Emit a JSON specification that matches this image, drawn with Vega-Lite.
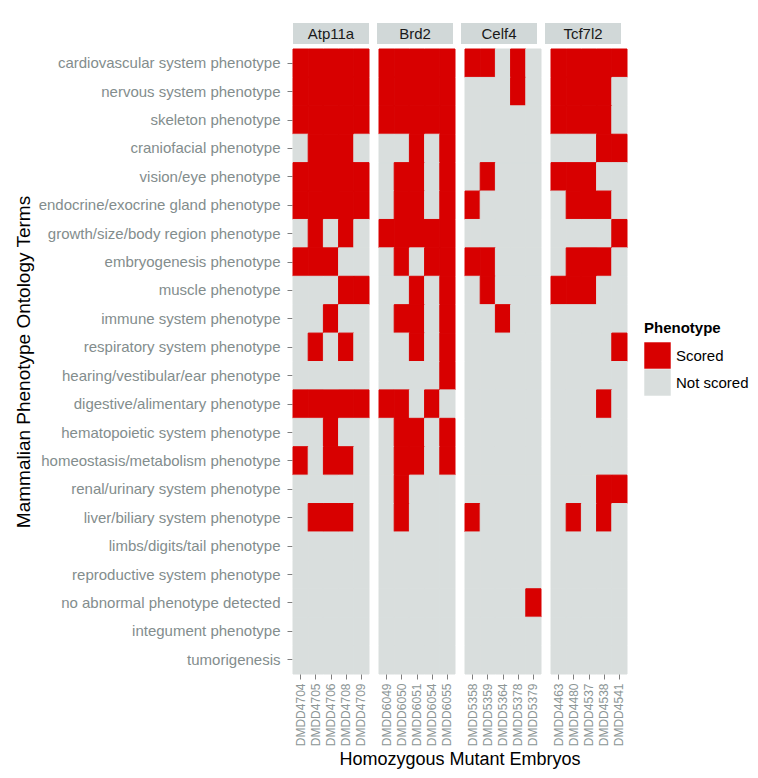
{
"$schema": "https://vega.github.io/schema/vega-lite/v6.json",
"background": "white",
"padding": {"left": 14, "top": 23, "right": 5, "bottom": 5},
"config": {
  "font": "Liberation Sans",
  "view": {"stroke": null},
  "concat": {"spacing": 4},
  "axis": {"domain": false, "grid": false}
},
"datasets": {
"genes": [{"gene":"Atp11a"},{"gene":"Brd2"},{"gene":"Celf4"},{"gene":"Tcf7l2"}],
"cells": [
{"gene":"Atp11a","embryo":"DMDD4704","phenotype":"cardiovascular system phenotype","status":"Scored"},
{"gene":"Atp11a","embryo":"DMDD4705","phenotype":"cardiovascular system phenotype","status":"Scored"},
{"gene":"Atp11a","embryo":"DMDD4706","phenotype":"cardiovascular system phenotype","status":"Scored"},
{"gene":"Atp11a","embryo":"DMDD4708","phenotype":"cardiovascular system phenotype","status":"Scored"},
{"gene":"Atp11a","embryo":"DMDD4709","phenotype":"cardiovascular system phenotype","status":"Scored"},
{"gene":"Atp11a","embryo":"DMDD4704","phenotype":"nervous system phenotype","status":"Scored"},
{"gene":"Atp11a","embryo":"DMDD4705","phenotype":"nervous system phenotype","status":"Scored"},
{"gene":"Atp11a","embryo":"DMDD4706","phenotype":"nervous system phenotype","status":"Scored"},
{"gene":"Atp11a","embryo":"DMDD4708","phenotype":"nervous system phenotype","status":"Scored"},
{"gene":"Atp11a","embryo":"DMDD4709","phenotype":"nervous system phenotype","status":"Scored"},
{"gene":"Atp11a","embryo":"DMDD4704","phenotype":"skeleton phenotype","status":"Scored"},
{"gene":"Atp11a","embryo":"DMDD4705","phenotype":"skeleton phenotype","status":"Scored"},
{"gene":"Atp11a","embryo":"DMDD4706","phenotype":"skeleton phenotype","status":"Scored"},
{"gene":"Atp11a","embryo":"DMDD4708","phenotype":"skeleton phenotype","status":"Scored"},
{"gene":"Atp11a","embryo":"DMDD4709","phenotype":"skeleton phenotype","status":"Scored"},
{"gene":"Atp11a","embryo":"DMDD4704","phenotype":"craniofacial phenotype","status":"Not scored"},
{"gene":"Atp11a","embryo":"DMDD4705","phenotype":"craniofacial phenotype","status":"Scored"},
{"gene":"Atp11a","embryo":"DMDD4706","phenotype":"craniofacial phenotype","status":"Scored"},
{"gene":"Atp11a","embryo":"DMDD4708","phenotype":"craniofacial phenotype","status":"Scored"},
{"gene":"Atp11a","embryo":"DMDD4709","phenotype":"craniofacial phenotype","status":"Not scored"},
{"gene":"Atp11a","embryo":"DMDD4704","phenotype":"vision/eye phenotype","status":"Scored"},
{"gene":"Atp11a","embryo":"DMDD4705","phenotype":"vision/eye phenotype","status":"Scored"},
{"gene":"Atp11a","embryo":"DMDD4706","phenotype":"vision/eye phenotype","status":"Scored"},
{"gene":"Atp11a","embryo":"DMDD4708","phenotype":"vision/eye phenotype","status":"Scored"},
{"gene":"Atp11a","embryo":"DMDD4709","phenotype":"vision/eye phenotype","status":"Scored"},
{"gene":"Atp11a","embryo":"DMDD4704","phenotype":"endocrine/exocrine gland phenotype","status":"Scored"},
{"gene":"Atp11a","embryo":"DMDD4705","phenotype":"endocrine/exocrine gland phenotype","status":"Scored"},
{"gene":"Atp11a","embryo":"DMDD4706","phenotype":"endocrine/exocrine gland phenotype","status":"Scored"},
{"gene":"Atp11a","embryo":"DMDD4708","phenotype":"endocrine/exocrine gland phenotype","status":"Scored"},
{"gene":"Atp11a","embryo":"DMDD4709","phenotype":"endocrine/exocrine gland phenotype","status":"Scored"},
{"gene":"Atp11a","embryo":"DMDD4704","phenotype":"growth/size/body region phenotype","status":"Not scored"},
{"gene":"Atp11a","embryo":"DMDD4705","phenotype":"growth/size/body region phenotype","status":"Scored"},
{"gene":"Atp11a","embryo":"DMDD4706","phenotype":"growth/size/body region phenotype","status":"Not scored"},
{"gene":"Atp11a","embryo":"DMDD4708","phenotype":"growth/size/body region phenotype","status":"Scored"},
{"gene":"Atp11a","embryo":"DMDD4709","phenotype":"growth/size/body region phenotype","status":"Not scored"},
{"gene":"Atp11a","embryo":"DMDD4704","phenotype":"embryogenesis phenotype","status":"Scored"},
{"gene":"Atp11a","embryo":"DMDD4705","phenotype":"embryogenesis phenotype","status":"Scored"},
{"gene":"Atp11a","embryo":"DMDD4706","phenotype":"embryogenesis phenotype","status":"Scored"},
{"gene":"Atp11a","embryo":"DMDD4708","phenotype":"embryogenesis phenotype","status":"Not scored"},
{"gene":"Atp11a","embryo":"DMDD4709","phenotype":"embryogenesis phenotype","status":"Not scored"},
{"gene":"Atp11a","embryo":"DMDD4704","phenotype":"muscle phenotype","status":"Not scored"},
{"gene":"Atp11a","embryo":"DMDD4705","phenotype":"muscle phenotype","status":"Not scored"},
{"gene":"Atp11a","embryo":"DMDD4706","phenotype":"muscle phenotype","status":"Not scored"},
{"gene":"Atp11a","embryo":"DMDD4708","phenotype":"muscle phenotype","status":"Scored"},
{"gene":"Atp11a","embryo":"DMDD4709","phenotype":"muscle phenotype","status":"Scored"},
{"gene":"Atp11a","embryo":"DMDD4704","phenotype":"immune system phenotype","status":"Not scored"},
{"gene":"Atp11a","embryo":"DMDD4705","phenotype":"immune system phenotype","status":"Not scored"},
{"gene":"Atp11a","embryo":"DMDD4706","phenotype":"immune system phenotype","status":"Scored"},
{"gene":"Atp11a","embryo":"DMDD4708","phenotype":"immune system phenotype","status":"Not scored"},
{"gene":"Atp11a","embryo":"DMDD4709","phenotype":"immune system phenotype","status":"Not scored"},
{"gene":"Atp11a","embryo":"DMDD4704","phenotype":"respiratory system phenotype","status":"Not scored"},
{"gene":"Atp11a","embryo":"DMDD4705","phenotype":"respiratory system phenotype","status":"Scored"},
{"gene":"Atp11a","embryo":"DMDD4706","phenotype":"respiratory system phenotype","status":"Not scored"},
{"gene":"Atp11a","embryo":"DMDD4708","phenotype":"respiratory system phenotype","status":"Scored"},
{"gene":"Atp11a","embryo":"DMDD4709","phenotype":"respiratory system phenotype","status":"Not scored"},
{"gene":"Atp11a","embryo":"DMDD4704","phenotype":"hearing/vestibular/ear phenotype","status":"Not scored"},
{"gene":"Atp11a","embryo":"DMDD4705","phenotype":"hearing/vestibular/ear phenotype","status":"Not scored"},
{"gene":"Atp11a","embryo":"DMDD4706","phenotype":"hearing/vestibular/ear phenotype","status":"Not scored"},
{"gene":"Atp11a","embryo":"DMDD4708","phenotype":"hearing/vestibular/ear phenotype","status":"Not scored"},
{"gene":"Atp11a","embryo":"DMDD4709","phenotype":"hearing/vestibular/ear phenotype","status":"Not scored"},
{"gene":"Atp11a","embryo":"DMDD4704","phenotype":"digestive/alimentary phenotype","status":"Scored"},
{"gene":"Atp11a","embryo":"DMDD4705","phenotype":"digestive/alimentary phenotype","status":"Scored"},
{"gene":"Atp11a","embryo":"DMDD4706","phenotype":"digestive/alimentary phenotype","status":"Scored"},
{"gene":"Atp11a","embryo":"DMDD4708","phenotype":"digestive/alimentary phenotype","status":"Scored"},
{"gene":"Atp11a","embryo":"DMDD4709","phenotype":"digestive/alimentary phenotype","status":"Scored"},
{"gene":"Atp11a","embryo":"DMDD4704","phenotype":"hematopoietic system phenotype","status":"Not scored"},
{"gene":"Atp11a","embryo":"DMDD4705","phenotype":"hematopoietic system phenotype","status":"Not scored"},
{"gene":"Atp11a","embryo":"DMDD4706","phenotype":"hematopoietic system phenotype","status":"Scored"},
{"gene":"Atp11a","embryo":"DMDD4708","phenotype":"hematopoietic system phenotype","status":"Not scored"},
{"gene":"Atp11a","embryo":"DMDD4709","phenotype":"hematopoietic system phenotype","status":"Not scored"},
{"gene":"Atp11a","embryo":"DMDD4704","phenotype":"homeostasis/metabolism phenotype","status":"Scored"},
{"gene":"Atp11a","embryo":"DMDD4705","phenotype":"homeostasis/metabolism phenotype","status":"Not scored"},
{"gene":"Atp11a","embryo":"DMDD4706","phenotype":"homeostasis/metabolism phenotype","status":"Scored"},
{"gene":"Atp11a","embryo":"DMDD4708","phenotype":"homeostasis/metabolism phenotype","status":"Scored"},
{"gene":"Atp11a","embryo":"DMDD4709","phenotype":"homeostasis/metabolism phenotype","status":"Not scored"},
{"gene":"Atp11a","embryo":"DMDD4704","phenotype":"renal/urinary system phenotype","status":"Not scored"},
{"gene":"Atp11a","embryo":"DMDD4705","phenotype":"renal/urinary system phenotype","status":"Not scored"},
{"gene":"Atp11a","embryo":"DMDD4706","phenotype":"renal/urinary system phenotype","status":"Not scored"},
{"gene":"Atp11a","embryo":"DMDD4708","phenotype":"renal/urinary system phenotype","status":"Not scored"},
{"gene":"Atp11a","embryo":"DMDD4709","phenotype":"renal/urinary system phenotype","status":"Not scored"},
{"gene":"Atp11a","embryo":"DMDD4704","phenotype":"liver/biliary system phenotype","status":"Not scored"},
{"gene":"Atp11a","embryo":"DMDD4705","phenotype":"liver/biliary system phenotype","status":"Scored"},
{"gene":"Atp11a","embryo":"DMDD4706","phenotype":"liver/biliary system phenotype","status":"Scored"},
{"gene":"Atp11a","embryo":"DMDD4708","phenotype":"liver/biliary system phenotype","status":"Scored"},
{"gene":"Atp11a","embryo":"DMDD4709","phenotype":"liver/biliary system phenotype","status":"Not scored"},
{"gene":"Atp11a","embryo":"DMDD4704","phenotype":"limbs/digits/tail phenotype","status":"Not scored"},
{"gene":"Atp11a","embryo":"DMDD4705","phenotype":"limbs/digits/tail phenotype","status":"Not scored"},
{"gene":"Atp11a","embryo":"DMDD4706","phenotype":"limbs/digits/tail phenotype","status":"Not scored"},
{"gene":"Atp11a","embryo":"DMDD4708","phenotype":"limbs/digits/tail phenotype","status":"Not scored"},
{"gene":"Atp11a","embryo":"DMDD4709","phenotype":"limbs/digits/tail phenotype","status":"Not scored"},
{"gene":"Atp11a","embryo":"DMDD4704","phenotype":"reproductive system phenotype","status":"Not scored"},
{"gene":"Atp11a","embryo":"DMDD4705","phenotype":"reproductive system phenotype","status":"Not scored"},
{"gene":"Atp11a","embryo":"DMDD4706","phenotype":"reproductive system phenotype","status":"Not scored"},
{"gene":"Atp11a","embryo":"DMDD4708","phenotype":"reproductive system phenotype","status":"Not scored"},
{"gene":"Atp11a","embryo":"DMDD4709","phenotype":"reproductive system phenotype","status":"Not scored"},
{"gene":"Atp11a","embryo":"DMDD4704","phenotype":"no abnormal phenotype detected","status":"Not scored"},
{"gene":"Atp11a","embryo":"DMDD4705","phenotype":"no abnormal phenotype detected","status":"Not scored"},
{"gene":"Atp11a","embryo":"DMDD4706","phenotype":"no abnormal phenotype detected","status":"Not scored"},
{"gene":"Atp11a","embryo":"DMDD4708","phenotype":"no abnormal phenotype detected","status":"Not scored"},
{"gene":"Atp11a","embryo":"DMDD4709","phenotype":"no abnormal phenotype detected","status":"Not scored"},
{"gene":"Atp11a","embryo":"DMDD4704","phenotype":"integument phenotype","status":"Not scored"},
{"gene":"Atp11a","embryo":"DMDD4705","phenotype":"integument phenotype","status":"Not scored"},
{"gene":"Atp11a","embryo":"DMDD4706","phenotype":"integument phenotype","status":"Not scored"},
{"gene":"Atp11a","embryo":"DMDD4708","phenotype":"integument phenotype","status":"Not scored"},
{"gene":"Atp11a","embryo":"DMDD4709","phenotype":"integument phenotype","status":"Not scored"},
{"gene":"Atp11a","embryo":"DMDD4704","phenotype":"tumorigenesis","status":"Not scored"},
{"gene":"Atp11a","embryo":"DMDD4705","phenotype":"tumorigenesis","status":"Not scored"},
{"gene":"Atp11a","embryo":"DMDD4706","phenotype":"tumorigenesis","status":"Not scored"},
{"gene":"Atp11a","embryo":"DMDD4708","phenotype":"tumorigenesis","status":"Not scored"},
{"gene":"Atp11a","embryo":"DMDD4709","phenotype":"tumorigenesis","status":"Not scored"},

{"gene":"Brd2","embryo":"DMDD6049","phenotype":"cardiovascular system phenotype","status":"Scored"},
{"gene":"Brd2","embryo":"DMDD6050","phenotype":"cardiovascular system phenotype","status":"Scored"},
{"gene":"Brd2","embryo":"DMDD6051","phenotype":"cardiovascular system phenotype","status":"Scored"},
{"gene":"Brd2","embryo":"DMDD6054","phenotype":"cardiovascular system phenotype","status":"Scored"},
{"gene":"Brd2","embryo":"DMDD6055","phenotype":"cardiovascular system phenotype","status":"Scored"},
{"gene":"Brd2","embryo":"DMDD6049","phenotype":"nervous system phenotype","status":"Scored"},
{"gene":"Brd2","embryo":"DMDD6050","phenotype":"nervous system phenotype","status":"Scored"},
{"gene":"Brd2","embryo":"DMDD6051","phenotype":"nervous system phenotype","status":"Scored"},
{"gene":"Brd2","embryo":"DMDD6054","phenotype":"nervous system phenotype","status":"Scored"},
{"gene":"Brd2","embryo":"DMDD6055","phenotype":"nervous system phenotype","status":"Scored"},
{"gene":"Brd2","embryo":"DMDD6049","phenotype":"skeleton phenotype","status":"Scored"},
{"gene":"Brd2","embryo":"DMDD6050","phenotype":"skeleton phenotype","status":"Scored"},
{"gene":"Brd2","embryo":"DMDD6051","phenotype":"skeleton phenotype","status":"Scored"},
{"gene":"Brd2","embryo":"DMDD6054","phenotype":"skeleton phenotype","status":"Scored"},
{"gene":"Brd2","embryo":"DMDD6055","phenotype":"skeleton phenotype","status":"Scored"},
{"gene":"Brd2","embryo":"DMDD6049","phenotype":"craniofacial phenotype","status":"Not scored"},
{"gene":"Brd2","embryo":"DMDD6050","phenotype":"craniofacial phenotype","status":"Not scored"},
{"gene":"Brd2","embryo":"DMDD6051","phenotype":"craniofacial phenotype","status":"Scored"},
{"gene":"Brd2","embryo":"DMDD6054","phenotype":"craniofacial phenotype","status":"Not scored"},
{"gene":"Brd2","embryo":"DMDD6055","phenotype":"craniofacial phenotype","status":"Scored"},
{"gene":"Brd2","embryo":"DMDD6049","phenotype":"vision/eye phenotype","status":"Not scored"},
{"gene":"Brd2","embryo":"DMDD6050","phenotype":"vision/eye phenotype","status":"Scored"},
{"gene":"Brd2","embryo":"DMDD6051","phenotype":"vision/eye phenotype","status":"Scored"},
{"gene":"Brd2","embryo":"DMDD6054","phenotype":"vision/eye phenotype","status":"Not scored"},
{"gene":"Brd2","embryo":"DMDD6055","phenotype":"vision/eye phenotype","status":"Scored"},
{"gene":"Brd2","embryo":"DMDD6049","phenotype":"endocrine/exocrine gland phenotype","status":"Not scored"},
{"gene":"Brd2","embryo":"DMDD6050","phenotype":"endocrine/exocrine gland phenotype","status":"Scored"},
{"gene":"Brd2","embryo":"DMDD6051","phenotype":"endocrine/exocrine gland phenotype","status":"Scored"},
{"gene":"Brd2","embryo":"DMDD6054","phenotype":"endocrine/exocrine gland phenotype","status":"Not scored"},
{"gene":"Brd2","embryo":"DMDD6055","phenotype":"endocrine/exocrine gland phenotype","status":"Scored"},
{"gene":"Brd2","embryo":"DMDD6049","phenotype":"growth/size/body region phenotype","status":"Scored"},
{"gene":"Brd2","embryo":"DMDD6050","phenotype":"growth/size/body region phenotype","status":"Scored"},
{"gene":"Brd2","embryo":"DMDD6051","phenotype":"growth/size/body region phenotype","status":"Scored"},
{"gene":"Brd2","embryo":"DMDD6054","phenotype":"growth/size/body region phenotype","status":"Scored"},
{"gene":"Brd2","embryo":"DMDD6055","phenotype":"growth/size/body region phenotype","status":"Scored"},
{"gene":"Brd2","embryo":"DMDD6049","phenotype":"embryogenesis phenotype","status":"Not scored"},
{"gene":"Brd2","embryo":"DMDD6050","phenotype":"embryogenesis phenotype","status":"Scored"},
{"gene":"Brd2","embryo":"DMDD6051","phenotype":"embryogenesis phenotype","status":"Not scored"},
{"gene":"Brd2","embryo":"DMDD6054","phenotype":"embryogenesis phenotype","status":"Scored"},
{"gene":"Brd2","embryo":"DMDD6055","phenotype":"embryogenesis phenotype","status":"Scored"},
{"gene":"Brd2","embryo":"DMDD6049","phenotype":"muscle phenotype","status":"Not scored"},
{"gene":"Brd2","embryo":"DMDD6050","phenotype":"muscle phenotype","status":"Not scored"},
{"gene":"Brd2","embryo":"DMDD6051","phenotype":"muscle phenotype","status":"Scored"},
{"gene":"Brd2","embryo":"DMDD6054","phenotype":"muscle phenotype","status":"Not scored"},
{"gene":"Brd2","embryo":"DMDD6055","phenotype":"muscle phenotype","status":"Scored"},
{"gene":"Brd2","embryo":"DMDD6049","phenotype":"immune system phenotype","status":"Not scored"},
{"gene":"Brd2","embryo":"DMDD6050","phenotype":"immune system phenotype","status":"Scored"},
{"gene":"Brd2","embryo":"DMDD6051","phenotype":"immune system phenotype","status":"Scored"},
{"gene":"Brd2","embryo":"DMDD6054","phenotype":"immune system phenotype","status":"Not scored"},
{"gene":"Brd2","embryo":"DMDD6055","phenotype":"immune system phenotype","status":"Scored"},
{"gene":"Brd2","embryo":"DMDD6049","phenotype":"respiratory system phenotype","status":"Not scored"},
{"gene":"Brd2","embryo":"DMDD6050","phenotype":"respiratory system phenotype","status":"Not scored"},
{"gene":"Brd2","embryo":"DMDD6051","phenotype":"respiratory system phenotype","status":"Scored"},
{"gene":"Brd2","embryo":"DMDD6054","phenotype":"respiratory system phenotype","status":"Not scored"},
{"gene":"Brd2","embryo":"DMDD6055","phenotype":"respiratory system phenotype","status":"Scored"},
{"gene":"Brd2","embryo":"DMDD6049","phenotype":"hearing/vestibular/ear phenotype","status":"Not scored"},
{"gene":"Brd2","embryo":"DMDD6050","phenotype":"hearing/vestibular/ear phenotype","status":"Not scored"},
{"gene":"Brd2","embryo":"DMDD6051","phenotype":"hearing/vestibular/ear phenotype","status":"Not scored"},
{"gene":"Brd2","embryo":"DMDD6054","phenotype":"hearing/vestibular/ear phenotype","status":"Not scored"},
{"gene":"Brd2","embryo":"DMDD6055","phenotype":"hearing/vestibular/ear phenotype","status":"Scored"},
{"gene":"Brd2","embryo":"DMDD6049","phenotype":"digestive/alimentary phenotype","status":"Scored"},
{"gene":"Brd2","embryo":"DMDD6050","phenotype":"digestive/alimentary phenotype","status":"Scored"},
{"gene":"Brd2","embryo":"DMDD6051","phenotype":"digestive/alimentary phenotype","status":"Not scored"},
{"gene":"Brd2","embryo":"DMDD6054","phenotype":"digestive/alimentary phenotype","status":"Scored"},
{"gene":"Brd2","embryo":"DMDD6055","phenotype":"digestive/alimentary phenotype","status":"Not scored"},
{"gene":"Brd2","embryo":"DMDD6049","phenotype":"hematopoietic system phenotype","status":"Not scored"},
{"gene":"Brd2","embryo":"DMDD6050","phenotype":"hematopoietic system phenotype","status":"Scored"},
{"gene":"Brd2","embryo":"DMDD6051","phenotype":"hematopoietic system phenotype","status":"Scored"},
{"gene":"Brd2","embryo":"DMDD6054","phenotype":"hematopoietic system phenotype","status":"Not scored"},
{"gene":"Brd2","embryo":"DMDD6055","phenotype":"hematopoietic system phenotype","status":"Scored"},
{"gene":"Brd2","embryo":"DMDD6049","phenotype":"homeostasis/metabolism phenotype","status":"Not scored"},
{"gene":"Brd2","embryo":"DMDD6050","phenotype":"homeostasis/metabolism phenotype","status":"Scored"},
{"gene":"Brd2","embryo":"DMDD6051","phenotype":"homeostasis/metabolism phenotype","status":"Scored"},
{"gene":"Brd2","embryo":"DMDD6054","phenotype":"homeostasis/metabolism phenotype","status":"Not scored"},
{"gene":"Brd2","embryo":"DMDD6055","phenotype":"homeostasis/metabolism phenotype","status":"Scored"},
{"gene":"Brd2","embryo":"DMDD6049","phenotype":"renal/urinary system phenotype","status":"Not scored"},
{"gene":"Brd2","embryo":"DMDD6050","phenotype":"renal/urinary system phenotype","status":"Scored"},
{"gene":"Brd2","embryo":"DMDD6051","phenotype":"renal/urinary system phenotype","status":"Not scored"},
{"gene":"Brd2","embryo":"DMDD6054","phenotype":"renal/urinary system phenotype","status":"Not scored"},
{"gene":"Brd2","embryo":"DMDD6055","phenotype":"renal/urinary system phenotype","status":"Not scored"},
{"gene":"Brd2","embryo":"DMDD6049","phenotype":"liver/biliary system phenotype","status":"Not scored"},
{"gene":"Brd2","embryo":"DMDD6050","phenotype":"liver/biliary system phenotype","status":"Scored"},
{"gene":"Brd2","embryo":"DMDD6051","phenotype":"liver/biliary system phenotype","status":"Not scored"},
{"gene":"Brd2","embryo":"DMDD6054","phenotype":"liver/biliary system phenotype","status":"Not scored"},
{"gene":"Brd2","embryo":"DMDD6055","phenotype":"liver/biliary system phenotype","status":"Not scored"},
{"gene":"Brd2","embryo":"DMDD6049","phenotype":"limbs/digits/tail phenotype","status":"Not scored"},
{"gene":"Brd2","embryo":"DMDD6050","phenotype":"limbs/digits/tail phenotype","status":"Not scored"},
{"gene":"Brd2","embryo":"DMDD6051","phenotype":"limbs/digits/tail phenotype","status":"Not scored"},
{"gene":"Brd2","embryo":"DMDD6054","phenotype":"limbs/digits/tail phenotype","status":"Not scored"},
{"gene":"Brd2","embryo":"DMDD6055","phenotype":"limbs/digits/tail phenotype","status":"Not scored"},
{"gene":"Brd2","embryo":"DMDD6049","phenotype":"reproductive system phenotype","status":"Not scored"},
{"gene":"Brd2","embryo":"DMDD6050","phenotype":"reproductive system phenotype","status":"Not scored"},
{"gene":"Brd2","embryo":"DMDD6051","phenotype":"reproductive system phenotype","status":"Not scored"},
{"gene":"Brd2","embryo":"DMDD6054","phenotype":"reproductive system phenotype","status":"Not scored"},
{"gene":"Brd2","embryo":"DMDD6055","phenotype":"reproductive system phenotype","status":"Not scored"},
{"gene":"Brd2","embryo":"DMDD6049","phenotype":"no abnormal phenotype detected","status":"Not scored"},
{"gene":"Brd2","embryo":"DMDD6050","phenotype":"no abnormal phenotype detected","status":"Not scored"},
{"gene":"Brd2","embryo":"DMDD6051","phenotype":"no abnormal phenotype detected","status":"Not scored"},
{"gene":"Brd2","embryo":"DMDD6054","phenotype":"no abnormal phenotype detected","status":"Not scored"},
{"gene":"Brd2","embryo":"DMDD6055","phenotype":"no abnormal phenotype detected","status":"Not scored"},
{"gene":"Brd2","embryo":"DMDD6049","phenotype":"integument phenotype","status":"Not scored"},
{"gene":"Brd2","embryo":"DMDD6050","phenotype":"integument phenotype","status":"Not scored"},
{"gene":"Brd2","embryo":"DMDD6051","phenotype":"integument phenotype","status":"Not scored"},
{"gene":"Brd2","embryo":"DMDD6054","phenotype":"integument phenotype","status":"Not scored"},
{"gene":"Brd2","embryo":"DMDD6055","phenotype":"integument phenotype","status":"Not scored"},
{"gene":"Brd2","embryo":"DMDD6049","phenotype":"tumorigenesis","status":"Not scored"},
{"gene":"Brd2","embryo":"DMDD6050","phenotype":"tumorigenesis","status":"Not scored"},
{"gene":"Brd2","embryo":"DMDD6051","phenotype":"tumorigenesis","status":"Not scored"},
{"gene":"Brd2","embryo":"DMDD6054","phenotype":"tumorigenesis","status":"Not scored"},
{"gene":"Brd2","embryo":"DMDD6055","phenotype":"tumorigenesis","status":"Not scored"},

{"gene":"Celf4","embryo":"DMDD5358","phenotype":"cardiovascular system phenotype","status":"Scored"},
{"gene":"Celf4","embryo":"DMDD5359","phenotype":"cardiovascular system phenotype","status":"Scored"},
{"gene":"Celf4","embryo":"DMDD5364","phenotype":"cardiovascular system phenotype","status":"Not scored"},
{"gene":"Celf4","embryo":"DMDD5378","phenotype":"cardiovascular system phenotype","status":"Scored"},
{"gene":"Celf4","embryo":"DMDD5379","phenotype":"cardiovascular system phenotype","status":"Not scored"},
{"gene":"Celf4","embryo":"DMDD5358","phenotype":"nervous system phenotype","status":"Not scored"},
{"gene":"Celf4","embryo":"DMDD5359","phenotype":"nervous system phenotype","status":"Not scored"},
{"gene":"Celf4","embryo":"DMDD5364","phenotype":"nervous system phenotype","status":"Not scored"},
{"gene":"Celf4","embryo":"DMDD5378","phenotype":"nervous system phenotype","status":"Scored"},
{"gene":"Celf4","embryo":"DMDD5379","phenotype":"nervous system phenotype","status":"Not scored"},
{"gene":"Celf4","embryo":"DMDD5358","phenotype":"skeleton phenotype","status":"Not scored"},
{"gene":"Celf4","embryo":"DMDD5359","phenotype":"skeleton phenotype","status":"Not scored"},
{"gene":"Celf4","embryo":"DMDD5364","phenotype":"skeleton phenotype","status":"Not scored"},
{"gene":"Celf4","embryo":"DMDD5378","phenotype":"skeleton phenotype","status":"Not scored"},
{"gene":"Celf4","embryo":"DMDD5379","phenotype":"skeleton phenotype","status":"Not scored"},
{"gene":"Celf4","embryo":"DMDD5358","phenotype":"craniofacial phenotype","status":"Not scored"},
{"gene":"Celf4","embryo":"DMDD5359","phenotype":"craniofacial phenotype","status":"Not scored"},
{"gene":"Celf4","embryo":"DMDD5364","phenotype":"craniofacial phenotype","status":"Not scored"},
{"gene":"Celf4","embryo":"DMDD5378","phenotype":"craniofacial phenotype","status":"Not scored"},
{"gene":"Celf4","embryo":"DMDD5379","phenotype":"craniofacial phenotype","status":"Not scored"},
{"gene":"Celf4","embryo":"DMDD5358","phenotype":"vision/eye phenotype","status":"Not scored"},
{"gene":"Celf4","embryo":"DMDD5359","phenotype":"vision/eye phenotype","status":"Scored"},
{"gene":"Celf4","embryo":"DMDD5364","phenotype":"vision/eye phenotype","status":"Not scored"},
{"gene":"Celf4","embryo":"DMDD5378","phenotype":"vision/eye phenotype","status":"Not scored"},
{"gene":"Celf4","embryo":"DMDD5379","phenotype":"vision/eye phenotype","status":"Not scored"},
{"gene":"Celf4","embryo":"DMDD5358","phenotype":"endocrine/exocrine gland phenotype","status":"Scored"},
{"gene":"Celf4","embryo":"DMDD5359","phenotype":"endocrine/exocrine gland phenotype","status":"Not scored"},
{"gene":"Celf4","embryo":"DMDD5364","phenotype":"endocrine/exocrine gland phenotype","status":"Not scored"},
{"gene":"Celf4","embryo":"DMDD5378","phenotype":"endocrine/exocrine gland phenotype","status":"Not scored"},
{"gene":"Celf4","embryo":"DMDD5379","phenotype":"endocrine/exocrine gland phenotype","status":"Not scored"},
{"gene":"Celf4","embryo":"DMDD5358","phenotype":"growth/size/body region phenotype","status":"Not scored"},
{"gene":"Celf4","embryo":"DMDD5359","phenotype":"growth/size/body region phenotype","status":"Not scored"},
{"gene":"Celf4","embryo":"DMDD5364","phenotype":"growth/size/body region phenotype","status":"Not scored"},
{"gene":"Celf4","embryo":"DMDD5378","phenotype":"growth/size/body region phenotype","status":"Not scored"},
{"gene":"Celf4","embryo":"DMDD5379","phenotype":"growth/size/body region phenotype","status":"Not scored"},
{"gene":"Celf4","embryo":"DMDD5358","phenotype":"embryogenesis phenotype","status":"Scored"},
{"gene":"Celf4","embryo":"DMDD5359","phenotype":"embryogenesis phenotype","status":"Scored"},
{"gene":"Celf4","embryo":"DMDD5364","phenotype":"embryogenesis phenotype","status":"Not scored"},
{"gene":"Celf4","embryo":"DMDD5378","phenotype":"embryogenesis phenotype","status":"Not scored"},
{"gene":"Celf4","embryo":"DMDD5379","phenotype":"embryogenesis phenotype","status":"Not scored"},
{"gene":"Celf4","embryo":"DMDD5358","phenotype":"muscle phenotype","status":"Not scored"},
{"gene":"Celf4","embryo":"DMDD5359","phenotype":"muscle phenotype","status":"Scored"},
{"gene":"Celf4","embryo":"DMDD5364","phenotype":"muscle phenotype","status":"Not scored"},
{"gene":"Celf4","embryo":"DMDD5378","phenotype":"muscle phenotype","status":"Not scored"},
{"gene":"Celf4","embryo":"DMDD5379","phenotype":"muscle phenotype","status":"Not scored"},
{"gene":"Celf4","embryo":"DMDD5358","phenotype":"immune system phenotype","status":"Not scored"},
{"gene":"Celf4","embryo":"DMDD5359","phenotype":"immune system phenotype","status":"Not scored"},
{"gene":"Celf4","embryo":"DMDD5364","phenotype":"immune system phenotype","status":"Scored"},
{"gene":"Celf4","embryo":"DMDD5378","phenotype":"immune system phenotype","status":"Not scored"},
{"gene":"Celf4","embryo":"DMDD5379","phenotype":"immune system phenotype","status":"Not scored"},
{"gene":"Celf4","embryo":"DMDD5358","phenotype":"respiratory system phenotype","status":"Not scored"},
{"gene":"Celf4","embryo":"DMDD5359","phenotype":"respiratory system phenotype","status":"Not scored"},
{"gene":"Celf4","embryo":"DMDD5364","phenotype":"respiratory system phenotype","status":"Not scored"},
{"gene":"Celf4","embryo":"DMDD5378","phenotype":"respiratory system phenotype","status":"Not scored"},
{"gene":"Celf4","embryo":"DMDD5379","phenotype":"respiratory system phenotype","status":"Not scored"},
{"gene":"Celf4","embryo":"DMDD5358","phenotype":"hearing/vestibular/ear phenotype","status":"Not scored"},
{"gene":"Celf4","embryo":"DMDD5359","phenotype":"hearing/vestibular/ear phenotype","status":"Not scored"},
{"gene":"Celf4","embryo":"DMDD5364","phenotype":"hearing/vestibular/ear phenotype","status":"Not scored"},
{"gene":"Celf4","embryo":"DMDD5378","phenotype":"hearing/vestibular/ear phenotype","status":"Not scored"},
{"gene":"Celf4","embryo":"DMDD5379","phenotype":"hearing/vestibular/ear phenotype","status":"Not scored"},
{"gene":"Celf4","embryo":"DMDD5358","phenotype":"digestive/alimentary phenotype","status":"Not scored"},
{"gene":"Celf4","embryo":"DMDD5359","phenotype":"digestive/alimentary phenotype","status":"Not scored"},
{"gene":"Celf4","embryo":"DMDD5364","phenotype":"digestive/alimentary phenotype","status":"Not scored"},
{"gene":"Celf4","embryo":"DMDD5378","phenotype":"digestive/alimentary phenotype","status":"Not scored"},
{"gene":"Celf4","embryo":"DMDD5379","phenotype":"digestive/alimentary phenotype","status":"Not scored"},
{"gene":"Celf4","embryo":"DMDD5358","phenotype":"hematopoietic system phenotype","status":"Not scored"},
{"gene":"Celf4","embryo":"DMDD5359","phenotype":"hematopoietic system phenotype","status":"Not scored"},
{"gene":"Celf4","embryo":"DMDD5364","phenotype":"hematopoietic system phenotype","status":"Not scored"},
{"gene":"Celf4","embryo":"DMDD5378","phenotype":"hematopoietic system phenotype","status":"Not scored"},
{"gene":"Celf4","embryo":"DMDD5379","phenotype":"hematopoietic system phenotype","status":"Not scored"},
{"gene":"Celf4","embryo":"DMDD5358","phenotype":"homeostasis/metabolism phenotype","status":"Not scored"},
{"gene":"Celf4","embryo":"DMDD5359","phenotype":"homeostasis/metabolism phenotype","status":"Not scored"},
{"gene":"Celf4","embryo":"DMDD5364","phenotype":"homeostasis/metabolism phenotype","status":"Not scored"},
{"gene":"Celf4","embryo":"DMDD5378","phenotype":"homeostasis/metabolism phenotype","status":"Not scored"},
{"gene":"Celf4","embryo":"DMDD5379","phenotype":"homeostasis/metabolism phenotype","status":"Not scored"},
{"gene":"Celf4","embryo":"DMDD5358","phenotype":"renal/urinary system phenotype","status":"Not scored"},
{"gene":"Celf4","embryo":"DMDD5359","phenotype":"renal/urinary system phenotype","status":"Not scored"},
{"gene":"Celf4","embryo":"DMDD5364","phenotype":"renal/urinary system phenotype","status":"Not scored"},
{"gene":"Celf4","embryo":"DMDD5378","phenotype":"renal/urinary system phenotype","status":"Not scored"},
{"gene":"Celf4","embryo":"DMDD5379","phenotype":"renal/urinary system phenotype","status":"Not scored"},
{"gene":"Celf4","embryo":"DMDD5358","phenotype":"liver/biliary system phenotype","status":"Scored"},
{"gene":"Celf4","embryo":"DMDD5359","phenotype":"liver/biliary system phenotype","status":"Not scored"},
{"gene":"Celf4","embryo":"DMDD5364","phenotype":"liver/biliary system phenotype","status":"Not scored"},
{"gene":"Celf4","embryo":"DMDD5378","phenotype":"liver/biliary system phenotype","status":"Not scored"},
{"gene":"Celf4","embryo":"DMDD5379","phenotype":"liver/biliary system phenotype","status":"Not scored"},
{"gene":"Celf4","embryo":"DMDD5358","phenotype":"limbs/digits/tail phenotype","status":"Not scored"},
{"gene":"Celf4","embryo":"DMDD5359","phenotype":"limbs/digits/tail phenotype","status":"Not scored"},
{"gene":"Celf4","embryo":"DMDD5364","phenotype":"limbs/digits/tail phenotype","status":"Not scored"},
{"gene":"Celf4","embryo":"DMDD5378","phenotype":"limbs/digits/tail phenotype","status":"Not scored"},
{"gene":"Celf4","embryo":"DMDD5379","phenotype":"limbs/digits/tail phenotype","status":"Not scored"},
{"gene":"Celf4","embryo":"DMDD5358","phenotype":"reproductive system phenotype","status":"Not scored"},
{"gene":"Celf4","embryo":"DMDD5359","phenotype":"reproductive system phenotype","status":"Not scored"},
{"gene":"Celf4","embryo":"DMDD5364","phenotype":"reproductive system phenotype","status":"Not scored"},
{"gene":"Celf4","embryo":"DMDD5378","phenotype":"reproductive system phenotype","status":"Not scored"},
{"gene":"Celf4","embryo":"DMDD5379","phenotype":"reproductive system phenotype","status":"Not scored"},
{"gene":"Celf4","embryo":"DMDD5358","phenotype":"no abnormal phenotype detected","status":"Not scored"},
{"gene":"Celf4","embryo":"DMDD5359","phenotype":"no abnormal phenotype detected","status":"Not scored"},
{"gene":"Celf4","embryo":"DMDD5364","phenotype":"no abnormal phenotype detected","status":"Not scored"},
{"gene":"Celf4","embryo":"DMDD5378","phenotype":"no abnormal phenotype detected","status":"Not scored"},
{"gene":"Celf4","embryo":"DMDD5379","phenotype":"no abnormal phenotype detected","status":"Scored"},
{"gene":"Celf4","embryo":"DMDD5358","phenotype":"integument phenotype","status":"Not scored"},
{"gene":"Celf4","embryo":"DMDD5359","phenotype":"integument phenotype","status":"Not scored"},
{"gene":"Celf4","embryo":"DMDD5364","phenotype":"integument phenotype","status":"Not scored"},
{"gene":"Celf4","embryo":"DMDD5378","phenotype":"integument phenotype","status":"Not scored"},
{"gene":"Celf4","embryo":"DMDD5379","phenotype":"integument phenotype","status":"Not scored"},
{"gene":"Celf4","embryo":"DMDD5358","phenotype":"tumorigenesis","status":"Not scored"},
{"gene":"Celf4","embryo":"DMDD5359","phenotype":"tumorigenesis","status":"Not scored"},
{"gene":"Celf4","embryo":"DMDD5364","phenotype":"tumorigenesis","status":"Not scored"},
{"gene":"Celf4","embryo":"DMDD5378","phenotype":"tumorigenesis","status":"Not scored"},
{"gene":"Celf4","embryo":"DMDD5379","phenotype":"tumorigenesis","status":"Not scored"},

{"gene":"Tcf7l2","embryo":"DMDD4463","phenotype":"cardiovascular system phenotype","status":"Scored"},
{"gene":"Tcf7l2","embryo":"DMDD4480","phenotype":"cardiovascular system phenotype","status":"Scored"},
{"gene":"Tcf7l2","embryo":"DMDD4537","phenotype":"cardiovascular system phenotype","status":"Scored"},
{"gene":"Tcf7l2","embryo":"DMDD4538","phenotype":"cardiovascular system phenotype","status":"Scored"},
{"gene":"Tcf7l2","embryo":"DMDD4541","phenotype":"cardiovascular system phenotype","status":"Scored"},
{"gene":"Tcf7l2","embryo":"DMDD4463","phenotype":"nervous system phenotype","status":"Scored"},
{"gene":"Tcf7l2","embryo":"DMDD4480","phenotype":"nervous system phenotype","status":"Scored"},
{"gene":"Tcf7l2","embryo":"DMDD4537","phenotype":"nervous system phenotype","status":"Scored"},
{"gene":"Tcf7l2","embryo":"DMDD4538","phenotype":"nervous system phenotype","status":"Scored"},
{"gene":"Tcf7l2","embryo":"DMDD4541","phenotype":"nervous system phenotype","status":"Not scored"},
{"gene":"Tcf7l2","embryo":"DMDD4463","phenotype":"skeleton phenotype","status":"Scored"},
{"gene":"Tcf7l2","embryo":"DMDD4480","phenotype":"skeleton phenotype","status":"Scored"},
{"gene":"Tcf7l2","embryo":"DMDD4537","phenotype":"skeleton phenotype","status":"Scored"},
{"gene":"Tcf7l2","embryo":"DMDD4538","phenotype":"skeleton phenotype","status":"Scored"},
{"gene":"Tcf7l2","embryo":"DMDD4541","phenotype":"skeleton phenotype","status":"Not scored"},
{"gene":"Tcf7l2","embryo":"DMDD4463","phenotype":"craniofacial phenotype","status":"Not scored"},
{"gene":"Tcf7l2","embryo":"DMDD4480","phenotype":"craniofacial phenotype","status":"Not scored"},
{"gene":"Tcf7l2","embryo":"DMDD4537","phenotype":"craniofacial phenotype","status":"Not scored"},
{"gene":"Tcf7l2","embryo":"DMDD4538","phenotype":"craniofacial phenotype","status":"Scored"},
{"gene":"Tcf7l2","embryo":"DMDD4541","phenotype":"craniofacial phenotype","status":"Scored"},
{"gene":"Tcf7l2","embryo":"DMDD4463","phenotype":"vision/eye phenotype","status":"Scored"},
{"gene":"Tcf7l2","embryo":"DMDD4480","phenotype":"vision/eye phenotype","status":"Scored"},
{"gene":"Tcf7l2","embryo":"DMDD4537","phenotype":"vision/eye phenotype","status":"Scored"},
{"gene":"Tcf7l2","embryo":"DMDD4538","phenotype":"vision/eye phenotype","status":"Not scored"},
{"gene":"Tcf7l2","embryo":"DMDD4541","phenotype":"vision/eye phenotype","status":"Not scored"},
{"gene":"Tcf7l2","embryo":"DMDD4463","phenotype":"endocrine/exocrine gland phenotype","status":"Not scored"},
{"gene":"Tcf7l2","embryo":"DMDD4480","phenotype":"endocrine/exocrine gland phenotype","status":"Scored"},
{"gene":"Tcf7l2","embryo":"DMDD4537","phenotype":"endocrine/exocrine gland phenotype","status":"Scored"},
{"gene":"Tcf7l2","embryo":"DMDD4538","phenotype":"endocrine/exocrine gland phenotype","status":"Scored"},
{"gene":"Tcf7l2","embryo":"DMDD4541","phenotype":"endocrine/exocrine gland phenotype","status":"Not scored"},
{"gene":"Tcf7l2","embryo":"DMDD4463","phenotype":"growth/size/body region phenotype","status":"Not scored"},
{"gene":"Tcf7l2","embryo":"DMDD4480","phenotype":"growth/size/body region phenotype","status":"Not scored"},
{"gene":"Tcf7l2","embryo":"DMDD4537","phenotype":"growth/size/body region phenotype","status":"Not scored"},
{"gene":"Tcf7l2","embryo":"DMDD4538","phenotype":"growth/size/body region phenotype","status":"Not scored"},
{"gene":"Tcf7l2","embryo":"DMDD4541","phenotype":"growth/size/body region phenotype","status":"Scored"},
{"gene":"Tcf7l2","embryo":"DMDD4463","phenotype":"embryogenesis phenotype","status":"Not scored"},
{"gene":"Tcf7l2","embryo":"DMDD4480","phenotype":"embryogenesis phenotype","status":"Scored"},
{"gene":"Tcf7l2","embryo":"DMDD4537","phenotype":"embryogenesis phenotype","status":"Scored"},
{"gene":"Tcf7l2","embryo":"DMDD4538","phenotype":"embryogenesis phenotype","status":"Scored"},
{"gene":"Tcf7l2","embryo":"DMDD4541","phenotype":"embryogenesis phenotype","status":"Not scored"},
{"gene":"Tcf7l2","embryo":"DMDD4463","phenotype":"muscle phenotype","status":"Scored"},
{"gene":"Tcf7l2","embryo":"DMDD4480","phenotype":"muscle phenotype","status":"Scored"},
{"gene":"Tcf7l2","embryo":"DMDD4537","phenotype":"muscle phenotype","status":"Scored"},
{"gene":"Tcf7l2","embryo":"DMDD4538","phenotype":"muscle phenotype","status":"Not scored"},
{"gene":"Tcf7l2","embryo":"DMDD4541","phenotype":"muscle phenotype","status":"Not scored"},
{"gene":"Tcf7l2","embryo":"DMDD4463","phenotype":"immune system phenotype","status":"Not scored"},
{"gene":"Tcf7l2","embryo":"DMDD4480","phenotype":"immune system phenotype","status":"Not scored"},
{"gene":"Tcf7l2","embryo":"DMDD4537","phenotype":"immune system phenotype","status":"Not scored"},
{"gene":"Tcf7l2","embryo":"DMDD4538","phenotype":"immune system phenotype","status":"Not scored"},
{"gene":"Tcf7l2","embryo":"DMDD4541","phenotype":"immune system phenotype","status":"Not scored"},
{"gene":"Tcf7l2","embryo":"DMDD4463","phenotype":"respiratory system phenotype","status":"Not scored"},
{"gene":"Tcf7l2","embryo":"DMDD4480","phenotype":"respiratory system phenotype","status":"Not scored"},
{"gene":"Tcf7l2","embryo":"DMDD4537","phenotype":"respiratory system phenotype","status":"Not scored"},
{"gene":"Tcf7l2","embryo":"DMDD4538","phenotype":"respiratory system phenotype","status":"Not scored"},
{"gene":"Tcf7l2","embryo":"DMDD4541","phenotype":"respiratory system phenotype","status":"Scored"},
{"gene":"Tcf7l2","embryo":"DMDD4463","phenotype":"hearing/vestibular/ear phenotype","status":"Not scored"},
{"gene":"Tcf7l2","embryo":"DMDD4480","phenotype":"hearing/vestibular/ear phenotype","status":"Not scored"},
{"gene":"Tcf7l2","embryo":"DMDD4537","phenotype":"hearing/vestibular/ear phenotype","status":"Not scored"},
{"gene":"Tcf7l2","embryo":"DMDD4538","phenotype":"hearing/vestibular/ear phenotype","status":"Not scored"},
{"gene":"Tcf7l2","embryo":"DMDD4541","phenotype":"hearing/vestibular/ear phenotype","status":"Not scored"},
{"gene":"Tcf7l2","embryo":"DMDD4463","phenotype":"digestive/alimentary phenotype","status":"Not scored"},
{"gene":"Tcf7l2","embryo":"DMDD4480","phenotype":"digestive/alimentary phenotype","status":"Not scored"},
{"gene":"Tcf7l2","embryo":"DMDD4537","phenotype":"digestive/alimentary phenotype","status":"Not scored"},
{"gene":"Tcf7l2","embryo":"DMDD4538","phenotype":"digestive/alimentary phenotype","status":"Scored"},
{"gene":"Tcf7l2","embryo":"DMDD4541","phenotype":"digestive/alimentary phenotype","status":"Not scored"},
{"gene":"Tcf7l2","embryo":"DMDD4463","phenotype":"hematopoietic system phenotype","status":"Not scored"},
{"gene":"Tcf7l2","embryo":"DMDD4480","phenotype":"hematopoietic system phenotype","status":"Not scored"},
{"gene":"Tcf7l2","embryo":"DMDD4537","phenotype":"hematopoietic system phenotype","status":"Not scored"},
{"gene":"Tcf7l2","embryo":"DMDD4538","phenotype":"hematopoietic system phenotype","status":"Not scored"},
{"gene":"Tcf7l2","embryo":"DMDD4541","phenotype":"hematopoietic system phenotype","status":"Not scored"},
{"gene":"Tcf7l2","embryo":"DMDD4463","phenotype":"homeostasis/metabolism phenotype","status":"Not scored"},
{"gene":"Tcf7l2","embryo":"DMDD4480","phenotype":"homeostasis/metabolism phenotype","status":"Not scored"},
{"gene":"Tcf7l2","embryo":"DMDD4537","phenotype":"homeostasis/metabolism phenotype","status":"Not scored"},
{"gene":"Tcf7l2","embryo":"DMDD4538","phenotype":"homeostasis/metabolism phenotype","status":"Not scored"},
{"gene":"Tcf7l2","embryo":"DMDD4541","phenotype":"homeostasis/metabolism phenotype","status":"Not scored"},
{"gene":"Tcf7l2","embryo":"DMDD4463","phenotype":"renal/urinary system phenotype","status":"Not scored"},
{"gene":"Tcf7l2","embryo":"DMDD4480","phenotype":"renal/urinary system phenotype","status":"Not scored"},
{"gene":"Tcf7l2","embryo":"DMDD4537","phenotype":"renal/urinary system phenotype","status":"Not scored"},
{"gene":"Tcf7l2","embryo":"DMDD4538","phenotype":"renal/urinary system phenotype","status":"Scored"},
{"gene":"Tcf7l2","embryo":"DMDD4541","phenotype":"renal/urinary system phenotype","status":"Scored"},
{"gene":"Tcf7l2","embryo":"DMDD4463","phenotype":"liver/biliary system phenotype","status":"Not scored"},
{"gene":"Tcf7l2","embryo":"DMDD4480","phenotype":"liver/biliary system phenotype","status":"Scored"},
{"gene":"Tcf7l2","embryo":"DMDD4537","phenotype":"liver/biliary system phenotype","status":"Not scored"},
{"gene":"Tcf7l2","embryo":"DMDD4538","phenotype":"liver/biliary system phenotype","status":"Scored"},
{"gene":"Tcf7l2","embryo":"DMDD4541","phenotype":"liver/biliary system phenotype","status":"Not scored"},
{"gene":"Tcf7l2","embryo":"DMDD4463","phenotype":"limbs/digits/tail phenotype","status":"Not scored"},
{"gene":"Tcf7l2","embryo":"DMDD4480","phenotype":"limbs/digits/tail phenotype","status":"Not scored"},
{"gene":"Tcf7l2","embryo":"DMDD4537","phenotype":"limbs/digits/tail phenotype","status":"Not scored"},
{"gene":"Tcf7l2","embryo":"DMDD4538","phenotype":"limbs/digits/tail phenotype","status":"Not scored"},
{"gene":"Tcf7l2","embryo":"DMDD4541","phenotype":"limbs/digits/tail phenotype","status":"Not scored"},
{"gene":"Tcf7l2","embryo":"DMDD4463","phenotype":"reproductive system phenotype","status":"Not scored"},
{"gene":"Tcf7l2","embryo":"DMDD4480","phenotype":"reproductive system phenotype","status":"Not scored"},
{"gene":"Tcf7l2","embryo":"DMDD4537","phenotype":"reproductive system phenotype","status":"Not scored"},
{"gene":"Tcf7l2","embryo":"DMDD4538","phenotype":"reproductive system phenotype","status":"Not scored"},
{"gene":"Tcf7l2","embryo":"DMDD4541","phenotype":"reproductive system phenotype","status":"Not scored"},
{"gene":"Tcf7l2","embryo":"DMDD4463","phenotype":"no abnormal phenotype detected","status":"Not scored"},
{"gene":"Tcf7l2","embryo":"DMDD4480","phenotype":"no abnormal phenotype detected","status":"Not scored"},
{"gene":"Tcf7l2","embryo":"DMDD4537","phenotype":"no abnormal phenotype detected","status":"Not scored"},
{"gene":"Tcf7l2","embryo":"DMDD4538","phenotype":"no abnormal phenotype detected","status":"Not scored"},
{"gene":"Tcf7l2","embryo":"DMDD4541","phenotype":"no abnormal phenotype detected","status":"Not scored"},
{"gene":"Tcf7l2","embryo":"DMDD4463","phenotype":"integument phenotype","status":"Not scored"},
{"gene":"Tcf7l2","embryo":"DMDD4480","phenotype":"integument phenotype","status":"Not scored"},
{"gene":"Tcf7l2","embryo":"DMDD4537","phenotype":"integument phenotype","status":"Not scored"},
{"gene":"Tcf7l2","embryo":"DMDD4538","phenotype":"integument phenotype","status":"Not scored"},
{"gene":"Tcf7l2","embryo":"DMDD4541","phenotype":"integument phenotype","status":"Not scored"},
{"gene":"Tcf7l2","embryo":"DMDD4463","phenotype":"tumorigenesis","status":"Not scored"},
{"gene":"Tcf7l2","embryo":"DMDD4480","phenotype":"tumorigenesis","status":"Not scored"},
{"gene":"Tcf7l2","embryo":"DMDD4537","phenotype":"tumorigenesis","status":"Not scored"},
{"gene":"Tcf7l2","embryo":"DMDD4538","phenotype":"tumorigenesis","status":"Not scored"},
{"gene":"Tcf7l2","embryo":"DMDD4541","phenotype":"tumorigenesis","status":"Not scored"}
]
},
"vconcat": [
  {
    "data": {"name": "genes"},
    "facet": {"column": {"field": "gene", "type": "nominal", "header": null}},
    "spacing": 8,
    "spec": {
      "width": 76,
      "height": 21,
      "layer": [
        {"mark": {"type": "rect", "color": "#d1d8d8"},
         "encoding": {
           "x": {"field": "gene", "type": "nominal", "axis": null, "scale": {"paddingInner": 0, "paddingOuter": 0}},
           "y": {"field": "gene", "type": "nominal", "axis": null, "scale": {"paddingInner": 0, "paddingOuter": 0}}
         }},
        {"mark": {"type": "text", "fontSize": 15, "color": "#1a1a1a", "font": "Liberation Sans"},
         "encoding": {
           "x": {"field": "gene", "type": "nominal", "axis": null},
           "y": {"field": "gene", "type": "nominal", "axis": null},
           "text": {"field": "gene"}
         }}
      ]
    },
    "resolve": {"scale": {"x": "independent", "y": "independent"}}
  },
  {
    "data": {"name": "cells"},
    "facet": {"column": {"field": "gene", "type": "nominal",
      "header": {"title": "Homozygous Mutant Embryos", "titleOrient": "bottom", "labels": false,
                 "titleFontSize": 18, "titleColor": "#000000", "titleFontWeight": "normal", "titleFont": "Liberation Sans", "titlePadding": -5}}},
    "spacing": 8,
    "spec": {
      "width": 76,
      "height": 625,
      "mark": {"type": "rect", "strokeWidth": 1},
      "encoding": {
        "x": {"field": "embryo", "type": "nominal", "title": null,
              "scale": {"paddingInner": 0, "paddingOuter": 0},
              "axis": {"labelAngle": -90, "labelFontSize": 12, "labelColor": "#8c9696", "labelFont": "Liberation Sans",
                       "tickColor": "#7f7f7f", "tickSize": 5, "domain": false, "labelPadding": 4}},
        "y": {"field": "phenotype", "type": "nominal",
              "sort": ["cardiovascular system phenotype","nervous system phenotype","skeleton phenotype","craniofacial phenotype","vision/eye phenotype","endocrine/exocrine gland phenotype","growth/size/body region phenotype","embryogenesis phenotype","muscle phenotype","immune system phenotype","respiratory system phenotype","hearing/vestibular/ear phenotype","digestive/alimentary phenotype","hematopoietic system phenotype","homeostasis/metabolism phenotype","renal/urinary system phenotype","liver/biliary system phenotype","limbs/digits/tail phenotype","reproductive system phenotype","no abnormal phenotype detected","integument phenotype","tumorigenesis"],
              "scale": {"paddingInner": 0, "paddingOuter": 0},
              "title": "Mammalian Phenotype Ontology Terms",
              "axis": {"labelFontSize": 15, "labelColor": "#838d8d", "labelFont": "Liberation Sans", "labelPadding": 7, "labelLimit": 300,
                       "maxExtent": 320, "tickColor": "#7f7f7f", "tickSize": 5, "domain": false,
                       "titleFontSize": 19, "titleFontWeight": "normal", "titleColor": "#000000", "titleFont": "Liberation Sans", "titlePadding": 5}},
        "color": {"field": "status", "type": "nominal",
                  "scale": {"domain": ["Scored", "Not scored"], "range": ["#d80000", "#d9dedd"]},
                  "legend": {"title": "Phenotype", "orient": "none", "legendX": 351, "legendY": 298,
                             "titleFontSize": 15, "titleFontWeight": "bold", "titleColor": "#000000", "titleFont": "Liberation Sans", "titlePadding": 6,
                             "labelFontSize": 15, "labelColor": "#000000", "labelFont": "Liberation Sans", "labelOffset": 5,
                             "symbolType": "square", "symbolSize": 700, "symbolStrokeWidth": 0, "symbolOpacity": 1, "rowPadding": 0}},
        "stroke": {"field": "status", "type": "nominal",
                  "scale": {"domain": ["Scored", "Not scored"], "range": ["#d80000", "#d9dedd"]},
                  "legend": null}
      }
    },
    "resolve": {"scale": {"x": "independent"}}
  }
]
}
